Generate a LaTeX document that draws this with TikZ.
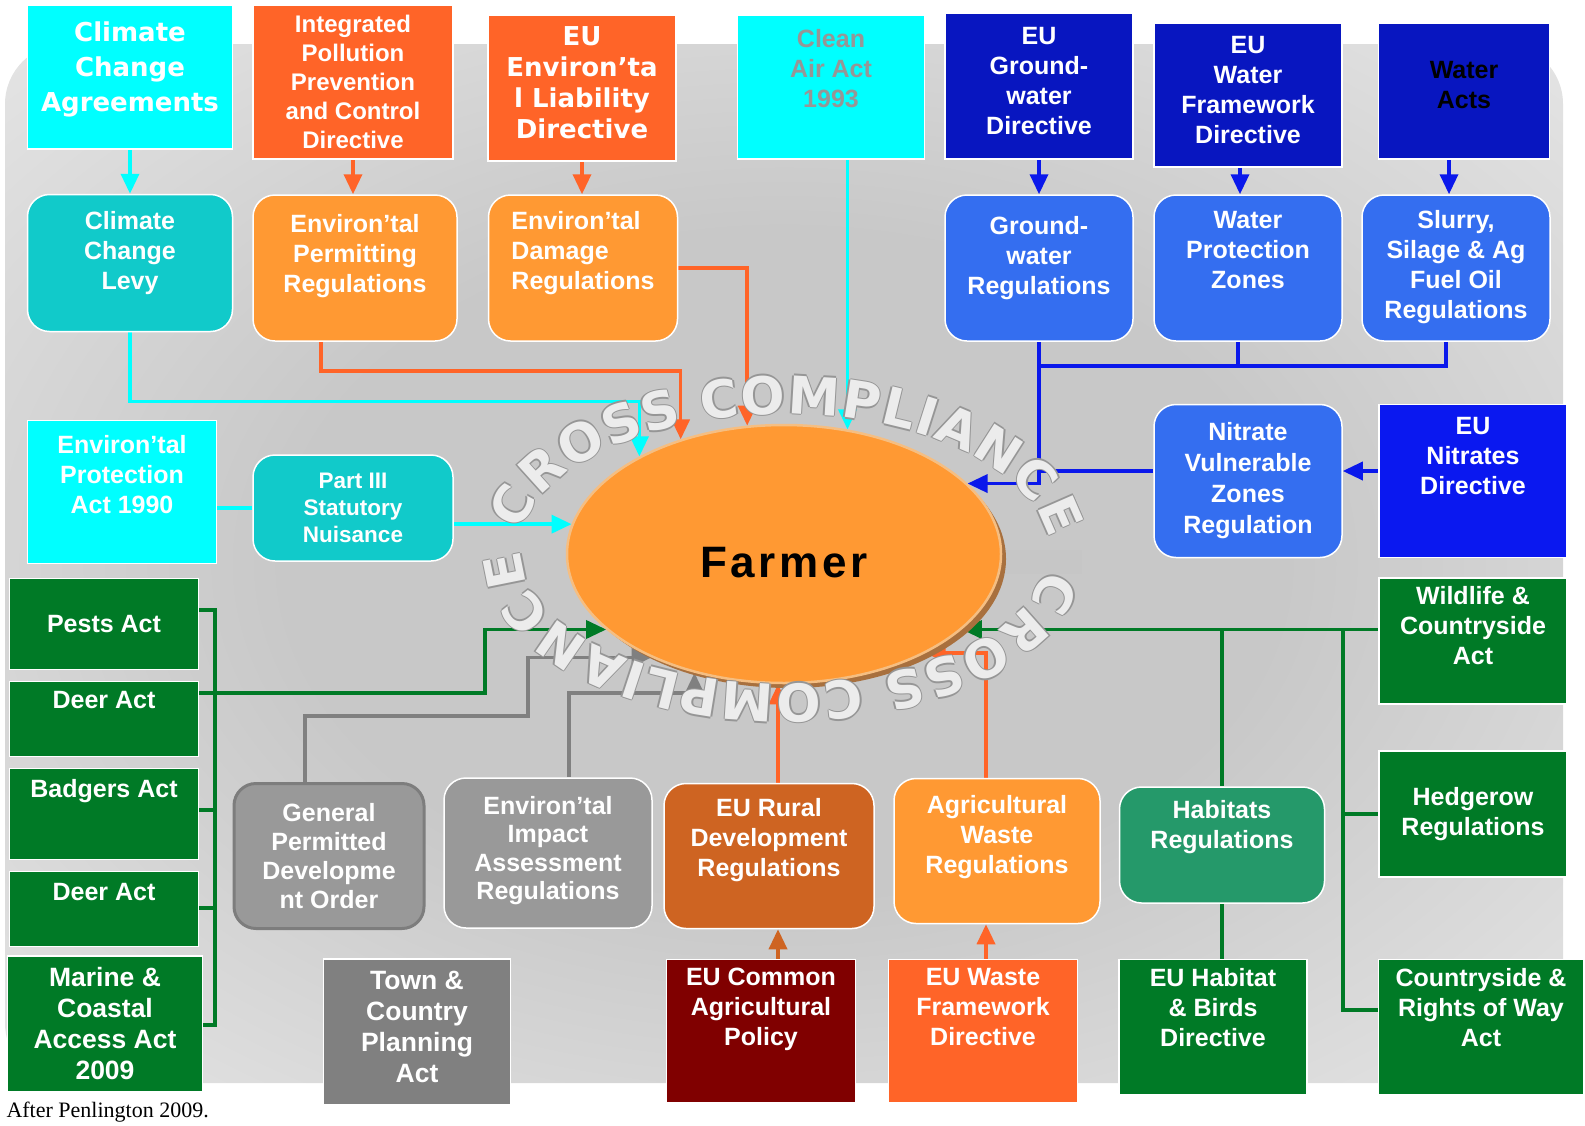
\documentclass[tikz,border=0pt]{standalone}
\usepackage{fontspec}
\setmainfont{Liberation Sans}
\newfontfamily\dejafont{DejaVu Sans}
\newfontfamily\farmerfont[LetterSpace=8]{Liberation Sans}
\newfontfamily\capfont{Liberation Serif}
\newcommand{\crossfont}{\dejafont\bfseries\fontsize{52}{56}\selectfont}
\usetikzlibrary{shapes,arrows.meta,decorations.text}

\definecolor{ccyan}{RGB}{0,255,255}
\definecolor{cteal}{RGB}{17,202,202}
\definecolor{cred}{RGB}{255,100,40}
\definecolor{corange}{RGB}{255,153,51}
\definecolor{cnavy}{RGB}{8,22,192}
\definecolor{cnitrate}{RGB}{10,24,240}
\definecolor{cblue}{RGB}{52,110,240}
\definecolor{clineblue}{RGB}{10,24,235}
\definecolor{cgreen}{RGB}{0,122,38}
\definecolor{chab}{RGB}{37,153,106}
\definecolor{cgrey}{RGB}{153,153,153}
\definecolor{cgreyborder}{RGB}{125,125,125}
\definecolor{cdgrey}{RGB}{128,128,128}
\definecolor{crust}{RGB}{206,100,34}
\definecolor{cmaroon}{RGB}{128,0,0}
\definecolor{cairtext}{RGB}{150,150,150}
\definecolor{cshadow}{RGB}{168,112,62}
\definecolor{crim}{RGB}{245,190,130}
\definecolor{cletter}{RGB}{236,236,236}
\definecolor{coutline}{RGB}{150,150,150}
\definecolor{bgmid}{RGB}{200,200,200}
\definecolor{bgedge}{RGB}{238,238,238}

\pgfdeclarelayer{bg}
\pgfdeclarelayer{lines}
\pgfsetlayers{bg,lines,main}
\pgfdeclareradialshading{bgshade}{\pgfpoint{0bp}{0bp}}{color(0bp)=(bgmid); color(16bp)=(bgmid); color(42bp)=(bgedge); color(75bp)=(bgedge)}

\begin{document}
\begin{tikzpicture}[
	x=1pt, y=-1pt,
	dims/.style 2 args={minimum width=#1pt, minimum height=#2pt},
	rect/.style={draw=white, line width=1.5pt, text=white, align=center, inner sep=2pt,
		font=\bfseries\fontsize{25}{30}\selectfont},
	rbox/.style={rect, rounded corners=22pt},
	wide/.style={font=\dejafont\bfseries\fontsize{26}{35}\selectfont},
	cyanbox/.style={rect, fill=ccyan},
	tealbox/.style={rbox, fill=cteal},
	redbox/.style={rect, fill=cred},
	orangebox/.style={rbox, fill=corange},
	navybox/.style={rect, fill=cnavy},
	bluebox/.style={rbox, fill=cblue},
	greenbox/.style={rect, fill=cgreen},
	greybox/.style={rbox, fill=cgrey},
	conn/.style={line width=3.5pt},
	arr/.style={-{Triangle[length=20pt,width=18pt]}},
	cyanline/.style={conn, draw=ccyan},
	redline/.style={conn, draw=cred},
	blueline/.style={conn, draw=clineblue},
	greenline/.style={conn, draw=cgreen},
	greyline/.style={conn, draw=cdgrey},
	crossing/.style={decorate, decoration={text along path, text align={fit to path},
		text color=#1, text={|\crossfont|CROSS COMPLIANCE}}}
	]
	\useasboundingbox (0,0) rectangle (1585,1125);
	\begin{pgfonlayer}{bg}
		\shade[shading=bgshade, rounded corners=60pt] (5,44) rectangle (1563,1083);
	\end{pgfonlayer}

	% top row
	\node[cyanbox, wide, dims={205}{144}] (cca) at (130,77) {Climate\\Change\\Agreements\\[-15pt]};
	\node[redbox, dims={200}{154}, font=\bfseries\fontsize{24}{29}\selectfont] (ippc) at (353,82) {Integrated\\Pollution\\Prevention\\and Control\\Directive};
	\node[redbox, dims={188}{146}, font=\dejafont\bfseries\fontsize{26}{31}\selectfont] (eld) at (582,88) {EU\\Environ’ta\\l Liability\\Directive\\[-21pt]};
	\node[cyanbox, dims={187}{144}, text=cairtext] (cleanair) at (831,87) {Clean\\Air Act\\1993\\[8pt]};
	\node[navybox, dims={188}{146}] (egwd) at (1039,86) {EU\\Ground-\\water\\Directive\\[-20pt]};
	\node[navybox, dims={188}{144}] (ewfd) at (1248,95) {EU\\Water\\Framework\\Directive\\[-20pt]};
	\node[navybox, dims={171}{136}, text=black] (wacts) at (1464,91) {Water\\Acts\\[-18pt]};

	% regulations row
	\node[tealbox, dims={205}{137}] (ccl) at (130,263) {Climate\\Change\\Levy\\[-4pt]};
	\node[orangebox, dims={204}{146}] (epr) at (355,268) {Environ’tal\\Permitting\\Regulations\\[0pt]};
	\node[orangebox, dims={189}{146}, align=left] (edr) at (583,268) {Environ’tal\\Damage\\Regulations\\[6pt]};
	\node[bluebox, dims={188}{146}] (gwr) at (1039,268) {Ground-\\water\\Regulations\\[-4pt]};
	\node[bluebox, dims={188}{146}] (wpz) at (1248,268) {Water\\Protection\\Zones\\[6pt]};
	\node[bluebox, dims={188}{146}] (slurry) at (1456,268) {Slurry,\\Silage \& Ag\\Fuel Oil\\Regulations\\[-22pt]};

	% middle
	\node[cyanbox, dims={189}{143}] (epa) at (122,492) {Environ’tal\\Protection\\Act 1990\\[6pt]};
	\node[tealbox, dims={200}{106}, font=\bfseries\fontsize{22.5}{27}\selectfont] (part3) at (353,508) {Part III\\Statutory\\Nuisance};
	\node[bluebox, dims={188}{153}, font=\bfseries\fontsize{25}{31}\selectfont] (nvz) at (1248,481) {Nitrate\\Vulnerable\\Zones\\Regulation\\[-25pt]};
	\node[rect, fill=cnitrate, dims={188}{153}] (nitrates) at (1473,481) {EU\\Nitrates\\Directive\\[20pt]};

	% left green column
	\node[greenbox, dims={189}{91}] (pests) at (104,624) {Pests Act};
	\node[greenbox, dims={189}{75}] (deera) at (104,719) {Deer Act\\[8pt]};
	\node[greenbox, dims={189}{91}] (badgers) at (104,814) {Badgers Act\\[22pt]};
	\node[greenbox, dims={189}{75}] (deerb) at (104,909) {Deer Act\\[4pt]};
	\node[greenbox, dims={195}{136}, font=\bfseries\fontsize{26.5}{31}\selectfont] (marine) at (105,1024) {Marine \&\\Coastal\\Access Act\\2009};

	% right green column
	\node[greenbox, dims={188}{126}] (wildlife) at (1473,641) {Wildlife \&\\Countryside\\Act\\[2pt]};
	\node[greenbox, dims={188}{126}] (hedgerow) at (1473,814) {Hedgerow\\Regulations};
	\node[greenbox, dims={205}{135}] (crow) at (1481,1027) {Countryside \&\\Rights of Way\\Act\\[10pt]};
	\node[rbox, fill=chab, dims={205}{116}] (habitats) at (1222,845) {Habitats\\Regulations\\[12pt]};
	\node[greenbox, dims={188}{135}] (habdir) at (1213,1027) {EU Habitat\\\& Birds\\Directive\\[10pt]};

	% bottom row
	\node[greybox, draw=cgreyborder, line width=3pt, dims={190}{145}, font=\bfseries\fontsize{25}{29}\selectfont] (gpdo) at (329,856) {General\\Permitted\\Developme\\nt Order};
	\node[greybox, dims={208}{150}, font=\bfseries\fontsize{25}{28.5}\selectfont] (eia) at (548,853) {Environ’tal\\Impact\\Assessment\\Regulations\\[-18.5pt]};
	\node[rect, fill=cdgrey, dims={187}{146}, font=\bfseries\fontsize{26.5}{31}\selectfont] (tcpa) at (417,1032) {Town \&\\Country\\Planning\\Act\\[-21pt]};
	\node[rbox, fill=crust, dims={210}{145}] (rural) at (769,856) {EU Rural\\Development\\Regulations\\[8pt]};
	\node[orangebox, dims={206}{145}] (agwaste) at (997,851) {Agricultural\\Waste\\Regulations\\[4pt]};
	\node[rect, fill=cmaroon, dims={189}{143}] (cap) at (761,1031) {EU Common\\Agricultural\\Policy\\[18pt]};
	\node[redbox, dims={189}{143}] (wastefd) at (983,1031) {EU Waste\\Framework\\Directive\\[18pt]};

	% farmer
	\node[ellipse, fill=cshadow, dims={434}{258}] (fshadow) at (789,559) {};
	\node[ellipse, fill=corange, draw=crim, line width=2.5pt, dims={434}{258}, text=black,
		font=\farmerfont\bfseries\fontsize{44}{50}\selectfont] (farmer) at (784,554) {\rule{0pt}{48pt}Farmer};

	\node[anchor=west, font=\capfont\fontsize{22}{24}\selectfont] (source) at (3,1112) {After Penlington 2009.};

	% connectors
	\begin{pgfonlayer}{lines}
		\fill[gray!45] (1004,550) rectangle (1082,574);
		\draw[cyanline, arr] (cca.south) -- (ccl.north);
		\draw[redline, arr] (ippc.south) -- (ippc.south |- epr.north);
		\draw[redline, arr] (eld.south) -- (eld.south |- edr.north);
		\draw[blueline, arr] (egwd.south) -- (gwr.north);
		\draw[blueline, arr] ([xshift=-8pt]ewfd.south) -- ([xshift=-8pt]ewfd.south |- wpz.north);
		\draw[blueline, arr] ([xshift=-15pt]wacts.south) -- ([xshift=-15pt]wacts.south |- slurry.north);

		\draw[cyanline, arr] (ccl.south) -- ++(0,69) -| (farmer.146);
		\draw[redline, arr] ([xshift=-34pt]epr.south) -- ++(0,29) -| (farmer.132);
		\draw[redline, arr] (edr.east) -| (farmer.106);
		\draw[cyanline, arr] (farmer.63 |- cleanair.south) -- (farmer.63);
		\draw[blueline, arr] (gwr.south) |- (farmer.21);
		\draw[blueline] ([xshift=-10pt]slurry.south) -- ++(0,24) -| (gwr.south);
		\draw[blueline] ([xshift=-10pt]wpz.south) -- ++(0,24);
		\draw[blueline] ([yshift=10pt]nvz.west) -- ([yshift=10pt]nvz.west -| gwr.south);
		\draw[blueline, arr] ([yshift=10pt]nitrates.west) -- ([yshift=10pt]nvz.east);

		\draw[cyanline] (epa.east |- part3.west) -- (part3.west);
		\draw[cyanline, arr] (part3.east |- farmer.172) -- (farmer.172);

		\draw[greenline] (pests.east |- 0,610) -| (215,1025) -- (marine.east |- 0,1025);
		\draw[greenline] (badgers.east |- 0,810) -- (215,810);
		\draw[greenline] (deerb.east |- 0,908) -- (215,908);
		\draw[greenline, arr] (deera.east |- 0,693) -- (485,693) |- (farmer.203);

		\draw[greyline, arr] ([xshift=-24pt]gpdo.north) |- (528,716) |- (farmer.218);
		\draw[greyline, arr] ([xshift=21pt]eia.north) |- (farmer.233 |- 0,693) -- (farmer.233);

		\draw[redline, arr] ([xshift=9pt]rural.north) -- ([xshift=9pt]rural.north |- farmer.south);
		\draw[redline, arr] ([xshift=-11pt]agwaste.north) |- (farmer.325);
		\draw[conn, draw=crust, arr] ([xshift=9pt]rural.south |- cap.north) -- ([xshift=9pt]rural.south);
		\draw[redline, arr] ([xshift=-11pt]agwaste.south |- wastefd.north) -- ([xshift=-11pt]agwaste.south);

		\draw[greenline, arr] (farmer.337 -| wildlife.west) -- (farmer.337);
		\draw[greenline] (farmer.337 -| habitats.north) -- (habitats.north);
		\draw[greenline] (habitats.south) -- (habitats.south |- habdir.north);
		\draw[greenline] (farmer.337 -| 1343,0) |- (crow.west |- 0,1010);
		\draw[greenline] (hedgerow.west -| 1343,0) -- (hedgerow.west);
	\end{pgfonlayer}

	% cross compliance lettering, outlined by offset copies
	\begin{scope}[shift={(784,554)}, x=1pt, y=1pt]
		\foreach \dx/\dy/\tc in {1.5/0/coutline, -1.5/0/coutline, 0/1.5/coutline, 0/-1.5/coutline, 0/0/cletter}{
			\path[crossing=\tc, xshift=\dx pt, yshift=\dy pt]
				(171:266pt and 140pt) arc[start angle=171, end angle=6, x radius=266pt, y radius=140pt];
			\path[crossing=\tc, xshift=\dx pt, yshift=\dy pt]
				(-6:262pt and 130pt) arc[start angle=-6, end angle=-182, x radius=262pt, y radius=130pt];
		}
	\end{scope}
\end{tikzpicture}
\end{document}
